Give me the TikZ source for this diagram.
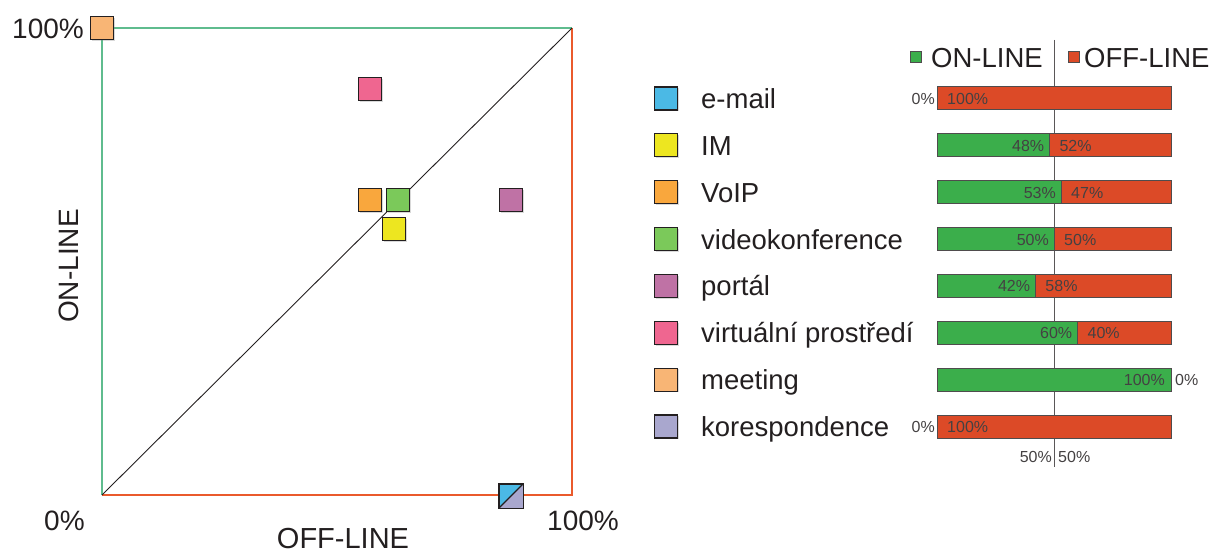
\documentclass[tikz,border=0pt]{standalone}
\usepackage{fontspec}
\setmainfont{Liberation Sans}
\usetikzlibrary{positioning,shadows}
\definecolor{ink}{HTML}{231F20}
\definecolor{ongreen}{HTML}{3BAE4B}
\definecolor{offred}{HTML}{DC4A27}
\definecolor{axisgreen}{HTML}{5FBC8E}
\definecolor{axisred}{HTML}{EA5A2C}
\definecolor{cmail}{HTML}{4BB9E5}
\definecolor{cim}{HTML}{EDE620}
\definecolor{cvoip}{HTML}{F9A73D}
\definecolor{cvideo}{HTML}{7BC95A}
\definecolor{cportal}{HTML}{BF72A5}
\definecolor{cvirt}{HTML}{EF6690}
\definecolor{cmeet}{HTML}{F8B575}
\definecolor{ckor}{HTML}{A9A7CE}
\tikzset{sq/.style={draw=ink,line width=1.1pt,minimum size=23pt,inner sep=0pt,drop shadow={shadow xshift=1.3pt,shadow yshift=-1.3pt,opacity=.3}},keysq/.style={draw=ink!80,line width=.8pt,minimum size=11pt,inner sep=0pt},bigtext/.style={font=\fontsize{28}{32}\selectfont,text=ink,inner sep=0pt},legtext/.style={font=\fontsize{27.5}{31}\selectfont,text=ink,inner sep=0pt},pct/.style={font=\fontsize{16}{19}\selectfont,text=ink!85,inner sep=0pt},bar/.style={draw=ink!80,line width=1pt}}

\begin{document}
\begin{tikzpicture}[x=1pt,y=-1pt]
\useasboundingbox (0,0) rectangle (1210,553);
% square plot
\coordinate (o) at (102,495);
\coordinate (tr) at (572,28);
\draw[axisgreen,line width=1.2pt] (o) |- (tr);
\draw[axisred,line width=1.2pt] (o) -| (tr);
\draw[ink,line width=.9pt] (o) -- (tr);
\node[bigtext,anchor=base east] (ymax) at (84,39) {100\%};
\node[bigtext,anchor=base west] (x0) at (44,530) {0\%};
\node[bigtext,anchor=base west] (xmax) at (547,530) {100\%};
\node[bigtext,rotate=90] (ylab) at (69,266) {ON-LINE};
\node[bigtext,font=\fontsize{29}{32}\selectfont,anchor=base] (xlab) at (343,548) {OFF-LINE};
% points
\node[sq,fill=cmeet] (pmeet) at (102,28) {};
\node[sq,fill=cvirt] (pvirt) at (370,89) {};
\node[sq,fill=cvoip] (pvoip) at (370,200) {};
\node[sq,fill=cvideo] (pvideo) at (398,200) {};
\node[sq,fill=cim] (pim) at (394,229) {};
\node[sq,fill=cportal] (pportal) at (511,200) {};
\node[sq,fill=white] (pmail) at (511,496) {};
\fill[cmail] (pmail.south west) -- (pmail.north west) -- (pmail.north east) -- cycle;
\fill[ckor] (pmail.south west) -- (pmail.south east) -- (pmail.north east) -- cycle;
\draw[ink,line width=1.1pt] (pmail.south west) rectangle (pmail.north east);
\draw[ink,line width=1.1pt] (pmail.south west) -- (pmail.north east);
% legend + bars
\node[keysq,fill=ongreen] (kon) at (916,57) {};
\node[legtext,anchor=base west] (hon) at (931,68) {ON-LINE};
\node[keysq,fill=offred] (koff) at (1074,57) {};
\node[legtext,anchor=base west] (hoff) at (1084,68) {OFF-LINE};
\draw[ink!75,line width=.9pt] (1054,40) -- (1054,467);
\foreach \i/\name/\col/\on in {0/e-mail/cmail/0,1/IM/cim/48,2/VoIP/cvoip/53,3/videokonference/cvideo/50,4/portál/cportal/42,5/virtuální prostředí/cvirt/60,6/meeting/cmeet/100,7/korespondence/ckor/0}{
  \pgfmathsetmacro\y{98.5+46.86*\i}
  \pgfmathsetmacro\sx{937+2.34*\on}
  \pgfmathtruncatemacro\off{100-\on}
  \node[sq,fill=\col] (key\i) at (666,\y) {};
  \node[legtext,anchor=base west] (name\i) at (701,\y+10) {\name};
  \ifnum\on>0\relax \draw[bar,fill=ongreen] (937,\y-11.5) rectangle (\sx,\y+11.5); \fi
  \ifnum\on<100\relax \draw[bar,fill=offred] (\sx,\y-11.5) rectangle (1171,\y+11.5); \fi
  \ifnum\on=0\relax
    \node[pct,anchor=base east] (on\i) at (935,\y+6) {0\%};
    \node[pct,anchor=base west] (off\i) at (947,\y+6) {100\%};
  \else\ifnum\on=100\relax
    \node[pct,anchor=base east] (on\i) at (1165,\y+6) {100\%};
    \node[pct,anchor=base west] (off\i) at (1175,\y+6) {0\%};
  \else
    \node[pct,anchor=base east] (on\i) at (\sx-5,\y+6) {\on\%};
    \node[pct,anchor=base west] (off\i) at (\sx+10,\y+6) {\off\%};
  \fi\fi
}
\node[pct,anchor=base east] (mid1) at (1052,462) {50\%};
\node[pct,anchor=base west] (mid2) at (1058,462) {50\%};
\end{tikzpicture}
\end{document}
